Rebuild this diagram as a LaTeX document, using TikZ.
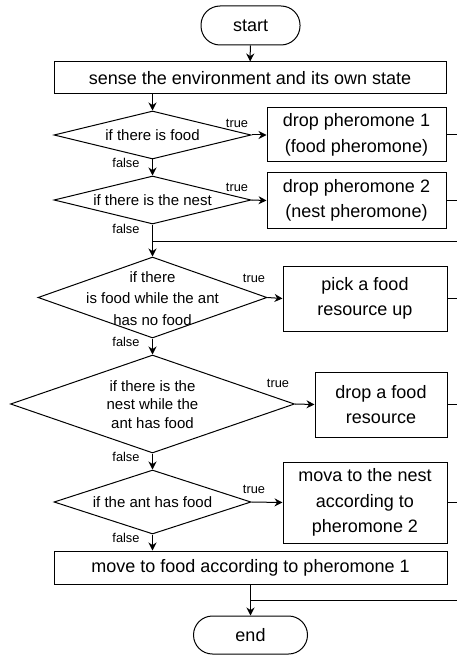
\documentclass[tikz,border=0pt]{standalone}
\usepackage{fontspec}
\setmainfont{Liberation Sans}
\usetikzlibrary{shapes.geometric,arrows.meta}
\begin{document}
\begin{tikzpicture}[x=1pt,y=-1pt,
  box/.style={draw, line width=1pt, rectangle, inner sep=0pt, align=center, font=\fontsize{18}{25.5}\selectfont},
  term/.style={box, rounded corners=19pt},
  dia/.style={draw, line width=1pt, diamond, inner sep=0pt},
  dtext/.style={align=center, inner sep=0pt, font=\fontsize{15}{21.5}\selectfont},
  lbl/.style={inner sep=0pt, font=\fontsize{12.8}{14}\selectfont},
  arr/.style={line width=1pt, -{Stealth[length=8pt,width=8pt]}},
  ln/.style={line width=1pt}]
\path[use as bounding box] (0,0) rectangle (457,655);
\coordinate (rr) at (457,0);
% nodes
\node[term, minimum width=99pt, minimum height=39pt] (start) at (250.5,25.5) {start};
\node[box, minimum width=392pt, minimum height=32pt] (sense) at (250,78) {sense the environment and its own state};
\node[dia, minimum width=197pt, minimum height=48pt] (d1) at (152.5,135) {};
\node[dtext] (d1t) at (d1) {if there is food};
\node[box, minimum width=179pt, minimum height=54pt] (b1) at (356.5,135) {drop pheromone 1\\(food pheromone)};
\node[dia, minimum width=197pt, minimum height=48pt] (d2) at (152.5,200) {};
\node[dtext] (d2t) at (d2) {if there is the nest};
\node[box, minimum width=179pt, minimum height=55pt] (b2) at (356.5,200.5) {drop pheromone 2\\(nest pheromone)};
\coordinate (m1) at (152.5,241);
\node[dia, minimum width=229pt, minimum height=81pt] (d3) at (152.5,297.5) {};
\node[dtext] (d3t) at (152.5,298.5) {if there\\is food while the ant\\has no food};
\node[box, minimum width=164pt, minimum height=65pt] (b3) at (365,298.5) {pick a food\\resource up};
\node[dia, minimum width=284pt, minimum height=98pt] (d4) at (152.5,404) {};
\node[dtext, font=\fontsize{15}{18.7}\selectfont] (d4t) at (152.5,404.5) {if there is the\\nest while the\\ant has food};
\node[box, minimum width=132pt, minimum height=65pt] (b4) at (381,404.5) {drop a food\\resource};
\node[dia, minimum width=197pt, minimum height=64pt] (d5) at (152.5,502) {};
\node[dtext] (d5t) at (d5) {if the ant has food};
\node[box, minimum width=164pt, minimum height=81pt] (b5) at (365,502.5) {mova to the nest\\according to\\pheromone 2};
\node[box, minimum width=393pt, minimum height=33pt] (b6) at (250.5,567.5) {move to food according to pheromone 1};
\coordinate (m2) at (250.5,600);
\node[term, minimum width=114pt, minimum height=38pt] (end) at (250.5,635) {end};
% labels
\node[lbl] (t1) at (237,123) {true};
\node[lbl] (f1) at (126,163) {false};
\node[lbl] (t2) at (237,187) {true};
\node[lbl] (f2) at (126,228.5) {false};
\node[lbl] (t3) at (254,278) {true};
\node[lbl] (f3) at (126,342) {false};
\node[lbl] (t4) at (278,383) {true};
\node[lbl] (f4) at (126,457) {false};
\node[lbl] (t5) at (254,489) {true};
\node[lbl] (f5) at (126,538) {false};
% connectors
\draw[arr] (start) -- (sense);
\draw[arr] (sense.south -| d1.north) -- (d1.north);
\draw[arr] (d1.east) -- (b1.west);
\draw[arr] (d1.south) -- (d2.north);
\draw[arr] (d2.east) -- (b2.west);
\draw[ln] (d2.south) -- (m1);
\draw[arr] (m1) -- (d3.north);
\draw[ln] (m1) -- (m1 -| rr);
\draw[arr] (d3.east) -- (b3.west);
\draw[arr] (d3.south) -- (d4.north);
\draw[arr] (d4.east) -- (b4.west);
\draw[arr] (d4.south) -- (d5.north);
\draw[arr] (d5.east) -- (b5.west);
\draw[arr] (d5.south) -- (d5.south |- b6.north);
\draw[ln] (b6.south) -- (m2);
\draw[arr] (m2) -- (end.north);
\draw[ln] (m2) -- (m2 -| rr);
\draw[ln] (b1.east) -- (b1.east -| rr);
\draw[ln] (b2.east) -- (b2.east -| rr);
\draw[ln] (b3.east) -- (b3.east -| rr);
\draw[ln] (b4.east) -- (b4.east -| rr);
\draw[ln] (b5.east) -- (b5.east -| rr);
\end{tikzpicture}
\end{document}
